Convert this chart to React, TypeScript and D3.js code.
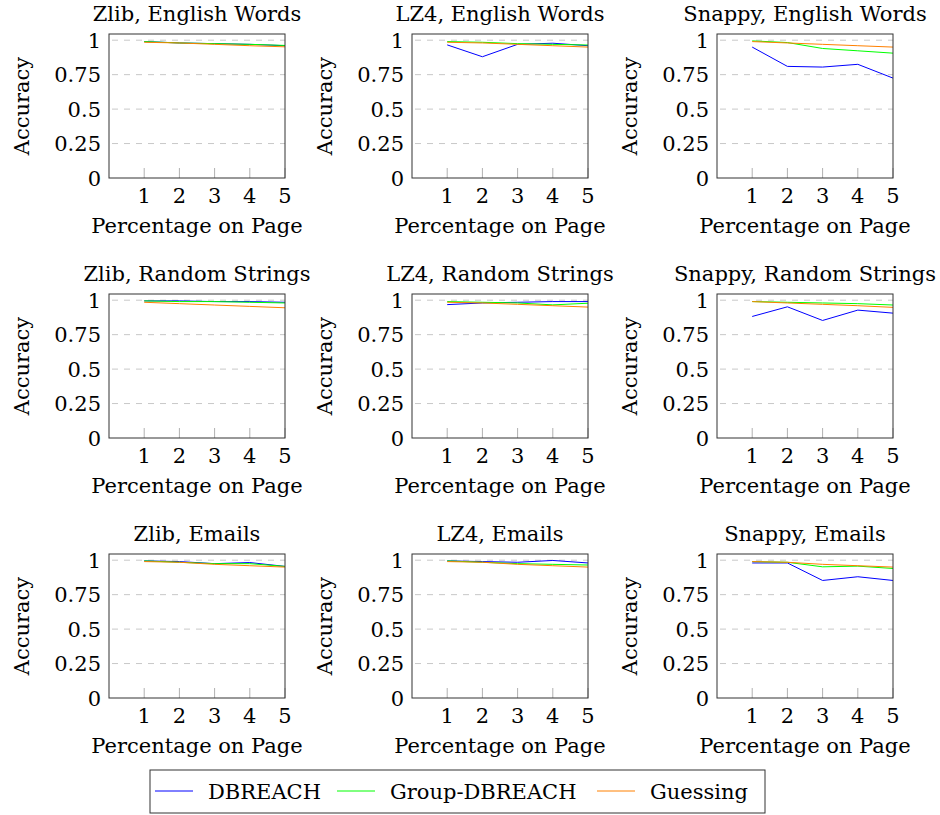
import { useEffect, useRef } from "react";
import * as d3 from "d3";

const xValues = [1, 2, 3, 4, 5];
const yTicks = [0, 0.25, 0.5, 0.75, 1];
const seriesNames = ["DBREACH", "Group-DBREACH", "Guessing"];
const seriesColors = ["#0000ff", "#00ff00", "#ff8000"];
const algorithms = ["Zlib", "LZ4", "Snappy"];
const datasets = ["English Words", "Random Strings", "Emails"];

// each panel: [DBREACH, Group-DBREACH, Guessing]
const englishZlib = [
  [0.99, 0.98, 0.975, 0.97, 0.96],
  [0.99, 0.98, 0.975, 0.97, 0.962],
  [0.985, 0.98, 0.97, 0.96, 0.952],
];
const englishLZ4 = [
  [0.966, 0.88, 0.97, 0.978, 0.96],
  [0.99, 0.985, 0.975, 0.97, 0.965],
  [0.985, 0.98, 0.97, 0.96, 0.95],
];
const englishSnappy = [
  [0.95, 0.81, 0.805, 0.825, 0.725],
  [0.995, 0.983, 0.94, 0.923, 0.906],
  [0.99, 0.98, 0.97, 0.96, 0.95],
];
const randomZlib = [
  [0.995, 0.995, 0.99, 0.99, 0.985],
  [0.995, 0.99, 0.99, 0.985, 0.98],
  [0.985, 0.975, 0.965, 0.955, 0.945],
];
const randomLZ4 = [
  [0.968, 0.98, 0.985, 0.99, 0.99],
  [0.99, 0.985, 0.98, 0.966, 0.978],
  [0.985, 0.98, 0.97, 0.96, 0.95],
];
const randomSnappy = [
  [0.882, 0.952, 0.853, 0.928, 0.906],
  [0.99, 0.985, 0.98, 0.975, 0.965],
  [0.99, 0.98, 0.97, 0.96, 0.948],
];
const emailsZlib = [
  [0.995, 0.99, 0.975, 0.983, 0.955],
  [0.995, 0.985, 0.975, 0.975, 0.955],
  [0.99, 0.985, 0.97, 0.96, 0.95],
];
const emailsLZ4 = [
  [0.995, 0.99, 0.985, 0.998, 0.98],
  [0.995, 0.985, 0.975, 0.97, 0.965],
  [0.99, 0.985, 0.97, 0.96, 0.95],
];
const emailsSnappy = [
  [0.98, 0.98, 0.853, 0.88, 0.853],
  [0.99, 0.985, 0.952, 0.957, 0.94],
  [0.99, 0.985, 0.97, 0.96, 0.95],
];

const panelData = [
  [englishZlib, englishLZ4, englishSnappy],
  [randomZlib, randomLZ4, randomSnappy],
  [emailsZlib, emailsLZ4, emailsSnappy],
];

export default function App() {
  const ref = useRef<HTMLDivElement>(null);

  useEffect(() => {
    if (!ref.current) return;
    const W = 940;
    const H = 815;
    const fs = 21;

    const svg = d3
      .select(ref.current)
      .html("")
      .append("svg")
      .attr("width", W)
      .attr("height", H)
      .style("position", "absolute")
      .style("left", "0px")
      .style("top", "0px")
      .attr("font-family", "DejaVu Serif");

    const pw = 176;
    const ph = 144;
    const lefts = [109, 412, 717];
    const tops = [34, 294, 554];

    datasets.forEach((ds, r) => {
      algorithms.forEach((alg, c) => {
        const g = svg
          .append("g")
          .attr("transform", `translate(${lefts[c]},${tops[r]})`);

        const x = d3.scaleLinear().domain([0, 5]).range([0, pw]);
        const y = d3.scaleLinear().domain([0, 1.045]).range([ph, 0]);

        // dashed grid
        g.append("g")
          .selectAll("line")
          .data(yTicks.slice(1))
          .enter()
          .append("line")
          .attr("x1", 0)
          .attr("x2", pw)
          .attr("y1", (d) => y(d))
          .attr("y2", (d) => y(d))
          .attr("stroke", "#c8c8c8")
          .attr("stroke-width", 1)
          .attr("stroke-dasharray", "6,6")
          .attr("stroke-dashoffset", -3);

        // x ticks, drawn inward
        g.append("g")
          .selectAll("line")
          .data(xValues)
          .enter()
          .append("line")
          .attr("x1", (d) => x(d))
          .attr("x2", (d) => x(d))
          .attr("y1", ph)
          .attr("y2", ph - 10)
          .attr("stroke", "#b0b0b0")
          .attr("stroke-width", 1);

        const line = d3
          .line<number>()
          .x((_, i) => x(xValues[i]))
          .y((d) => y(d));

        panelData[r][c].forEach((vals, si) => {
          g.append("path")
            .datum(vals)
            .attr("fill", "none")
            .attr("stroke", seriesColors[si])
            .attr("stroke-width", 1)
            .attr("d", line);
        });

        g.append("rect")
          .attr("width", pw)
          .attr("height", ph)
          .attr("fill", "none")
          .attr("stroke", "#333")
          .attr("stroke-width", 1);

        g.append("g")
          .selectAll("text")
          .data(xValues)
          .enter()
          .append("text")
          .attr("x", (d) => x(d))
          .attr("y", ph + 25)
          .attr("text-anchor", "middle")
          .attr("font-size", fs)
          .text((d) => d);

        g.append("g")
          .selectAll("text")
          .data(yTicks)
          .enter()
          .append("text")
          .attr("x", -8)
          .attr("y", (d) => y(d) + 7.5)
          .attr("text-anchor", "end")
          .attr("font-size", fs)
          .text((d) => String(d));

        g.append("text")
          .attr("x", pw / 2)
          .attr("y", -13)
          .attr("text-anchor", "middle")
          .attr("font-size", fs)
          .text(`${alg}, ${ds}`);

        g.append("text")
          .attr("x", pw / 2)
          .attr("y", ph + 55)
          .attr("text-anchor", "middle")
          .attr("font-size", fs)
          .text("Percentage on Page");

        g.append("text")
          .attr("transform", `translate(-80,${ph / 2}) rotate(-90)`)
          .attr("text-anchor", "middle")
          .attr("font-size", fs)
          .text("Accuracy");
      });
    });

    // legend
    const lg = svg.append("g").attr("transform", "translate(150,770)");
    lg.append("rect")
      .attr("width", 615)
      .attr("height", 43)
      .attr("fill", "white")
      .attr("stroke", "#333")
      .attr("stroke-width", 1);
    const legendX = [5, 187, 447];
    seriesNames.forEach((name, i) => {
      lg.append("line")
        .attr("x1", legendX[i])
        .attr("x2", legendX[i] + 38)
        .attr("y1", 21)
        .attr("y2", 21)
        .attr("stroke", seriesColors[i])
        .attr("stroke-width", 1);
      lg.append("text")
        .attr("x", legendX[i] + 53)
        .attr("y", 29)
        .attr("font-size", fs)
        .text(name);
    });
  }, []);

  return <div ref={ref}></div>;
}
